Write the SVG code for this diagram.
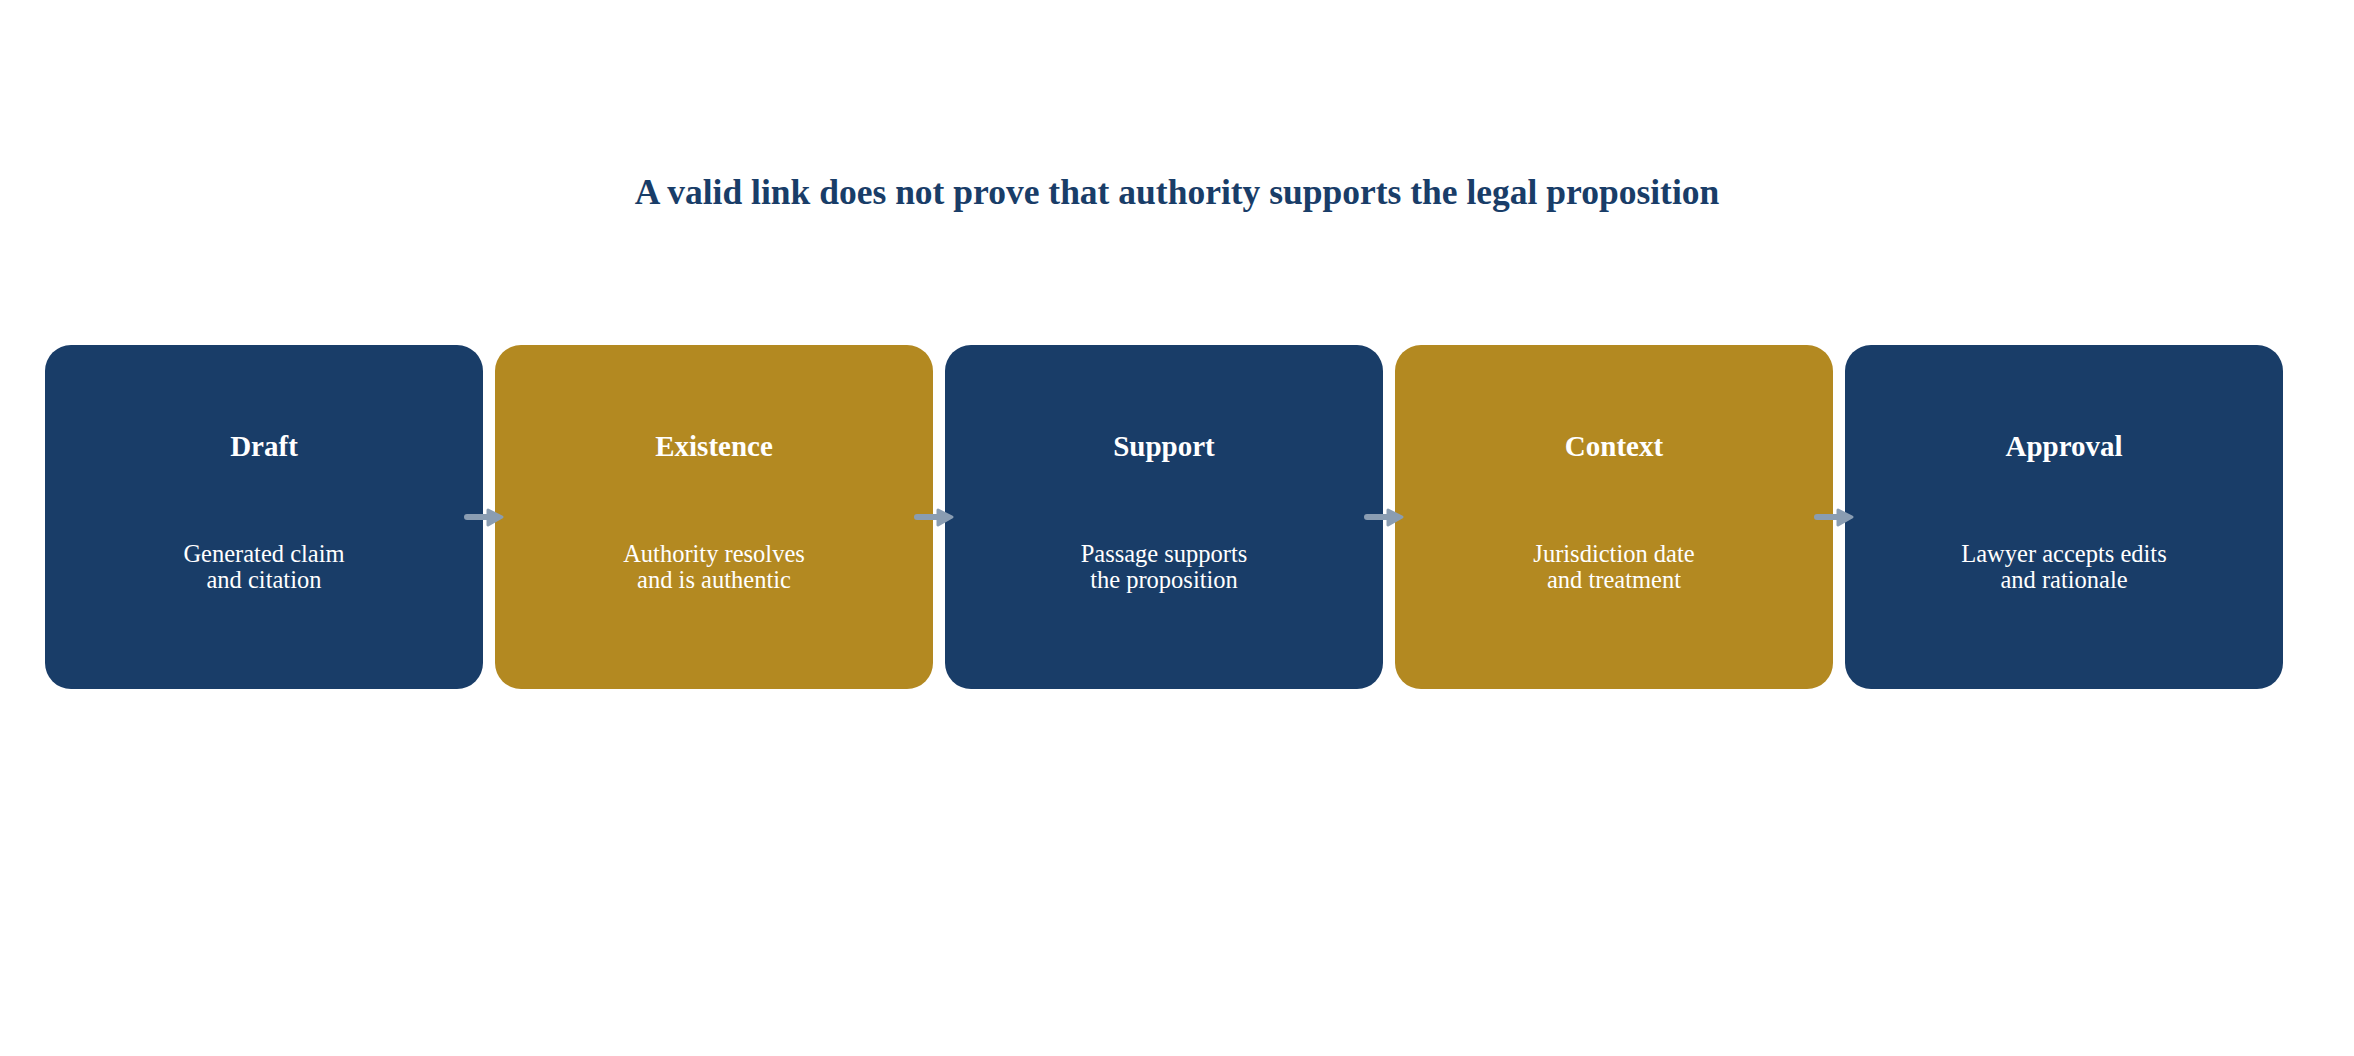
<svg xmlns="http://www.w3.org/2000/svg" width="2354" height="1056" viewBox="0 0 2354 1056">
<defs>
<style>
.navy{fill:#193D68}
.gold{fill:#B38921}
.title{font-family:"Liberation Serif","Times New Roman",serif;font-weight:bold;font-size:35.5px;fill:#193D68;text-anchor:middle}
.head{font-family:"Liberation Serif","Times New Roman",serif;font-weight:bold;font-size:29px;fill:#FFFFFF;text-anchor:middle}
.sub{font-family:"Liberation Serif","Times New Roman",serif;font-size:24.5px;fill:#FFFFFF;text-anchor:middle}
.conn{stroke:#8A9DB2;stroke-width:6;stroke-linecap:round;fill:none}
.arrowhead{fill:#8A9DB2;stroke:#8A9DB2;stroke-width:3;stroke-linejoin:round}
</style>
</defs>
<rect width="2354" height="1056" fill="#FFFFFF"/>
<text class="title" x="1177" y="204">A valid link does not prove that authority supports the legal proposition</text>
<g id="node-draft">
<rect class="navy" x="45" y="345" width="438" height="344" rx="26" ry="26"/>
<text class="head" x="264" y="456">Draft</text>
<text class="sub" x="264" y="562">Generated claim</text>
<text class="sub" x="264" y="588">and citation</text>
</g>
<g id="node-existence">
<rect class="gold" x="495" y="345" width="438" height="344" rx="26" ry="26"/>
<text class="head" x="714" y="456">Existence</text>
<text class="sub" x="714" y="562">Authority resolves</text>
<text class="sub" x="714" y="588">and is authentic</text>
</g>
<g id="node-support">
<rect class="navy" x="945" y="345" width="438" height="344" rx="26" ry="26"/>
<text class="head" x="1164" y="456">Support</text>
<text class="sub" x="1164" y="562">Passage supports</text>
<text class="sub" x="1164" y="588">the proposition</text>
</g>
<g id="node-context">
<rect class="gold" x="1395" y="345" width="438" height="344" rx="26" ry="26"/>
<text class="head" x="1614" y="456">Context</text>
<text class="sub" x="1614" y="562">Jurisdiction date</text>
<text class="sub" x="1614" y="588">and treatment</text>
</g>
<g id="node-approval">
<rect class="navy" x="1845" y="345" width="438" height="344" rx="26" ry="26"/>
<text class="head" x="2064" y="456">Approval</text>
<text class="sub" x="2064" y="562">Lawyer accepts edits</text>
<text class="sub" x="2064" y="588">and rationale</text>
</g>
<g id="connectors">
<line class="conn" x1="467" y1="517" x2="492" y2="517"/>
<polygon class="arrowhead" points="488,510 502,517 488,525"/>
<line class="conn" x1="917" y1="517" x2="942" y2="517"/>
<polygon class="arrowhead" points="938,510 952,517 938,525"/>
<line class="conn" x1="1367" y1="517" x2="1392" y2="517"/>
<polygon class="arrowhead" points="1388,510 1402,517 1388,525"/>
<line class="conn" x1="1817" y1="517" x2="1842" y2="517"/>
<polygon class="arrowhead" points="1838,510 1852,517 1838,525"/>
</g>
</svg>
